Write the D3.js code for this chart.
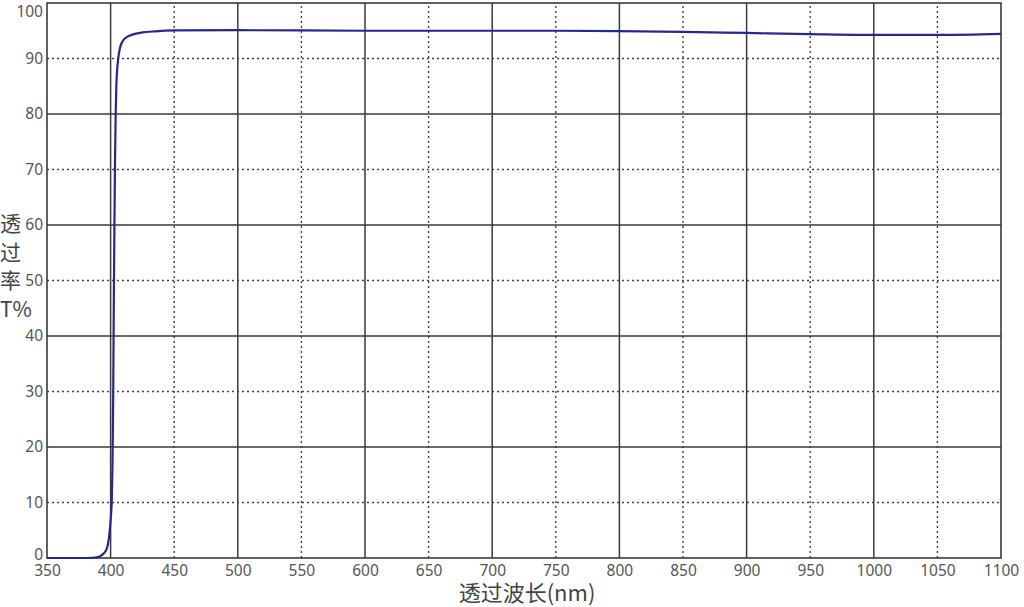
<!DOCTYPE html>
<html>
<head>
<meta charset="utf-8">
<script src="https://cdn.jsdelivr.net/npm/d3@7"></script>
<style>
  body { margin: 0; background: #fff; }
  svg { display: block; font-family: "Noto Sans CJK SC", "Noto Sans", sans-serif; }
</style>
</head>
<body>
<svg id="chart" width="1024" height="607"></svg>
<script>
// wavelength (nm) and transmittance (%)
const wavelengths = [350, 370, 380, 385, 390, 392, 394, 396, 397, 398, 399, 400, 401, 401.5, 402, 402.5, 403, 403.5, 404, 404.5, 405, 406, 407, 408, 410, 413, 417, 425, 435, 450, 500, 600, 700, 750, 800, 850, 900, 950, 1000, 1050, 1100]
const transmittance = [0, 0, 0, 0.02, 0.15, 0.35, 0.7, 1.2, 1.7, 2.6, 4.2, 6.8, 11, 17, 28, 45, 60, 72, 80, 85, 87.5, 90, 91.5, 92.4, 93.3, 93.9, 94.3, 94.7, 94.9, 95.05, 95.1, 95.0, 95.0, 95.0, 94.95, 94.8, 94.6, 94.4, 94.25, 94.25, 94.45]
const xTicks = d3.range(350, 1101, 50)
const yTicks = d3.range(0, 101, 10)
const xTitle = "透过波长(nm)"
const yTitle = ["透", "过", "率", "T%"]

const data = wavelengths.map((w, i) => ({w: w, t: transmittance[i]}))

const margin = {top: 3, right: 23, bottom: 49, left: 47}
const width = 1024, height = 607

const x = d3.scaleLinear()
    .domain([350, 1100])
    .range([margin.left, width - margin.right])

const y = d3.scaleLinear()
    .domain([0, 100])
    .range([height - margin.bottom, margin.top])

const svg = d3.select("#chart")

// grid: solid every 100 nm / 20 %, dotted in between
const isMajorX = v => v % 100 === 0
const isMajorY = v => v % 20 === 0

svg.append("g")
    .selectAll("line")
    .data(xTicks.filter(v => v > 350 && v < 1100))
    .join("line")
    .attr("x1", d => x(d)).attr("x2", d => x(d))
    .attr("y1", y(0)).attr("y2", y(100))
    .attr("stroke", d => isMajorX(d) ? "#3a3a3a" : "#444")
    .attr("stroke-width", d => isMajorX(d) ? 1.5 : 1.4)
    .attr("stroke-dasharray", d => isMajorX(d) ? null : "2,3")

svg.append("g")
    .selectAll("line")
    .data(yTicks.filter(v => v > 0 && v < 100))
    .join("line")
    .attr("x1", x(350)).attr("x2", x(1100))
    .attr("y1", d => y(d)).attr("y2", d => y(d))
    .attr("stroke", d => isMajorY(d) ? "#3a3a3a" : "#444")
    .attr("stroke-width", d => isMajorY(d) ? 1.5 : 1.4)
    .attr("stroke-dasharray", d => isMajorY(d) ? null : "2,3")

// frame
svg.append("rect")
    .attr("x", x(350)).attr("y", y(100))
    .attr("width", x(1100) - x(350)).attr("height", y(0) - y(100))
    .attr("fill", "none")
    .attr("stroke", "#3a3a3a")
    .attr("stroke-width", 1.6)

// axes (labels only)
const xAxis = g => g
    .attr("transform", `translate(0,${y(0)})`)
    .call(d3.axisBottom(x).tickValues(xTicks).tickFormat(d3.format("d")).tickSize(0).tickPadding(7))
    .call(g => g.select(".domain").remove())
    .call(g => g.selectAll("text")
        .attr("fill", "#555")
        .attr("font-size", 15.5)
        .attr("font-family", "Noto Sans, sans-serif"))

const yAxis = g => g
    .attr("transform", `translate(${x(350)},0)`)
    .call(d3.axisLeft(y).tickValues(yTicks).tickFormat(d3.format("d")).tickSize(0).tickPadding(4))
    .call(g => g.select(".domain").remove())
    .call(g => g.selectAll("text")
        .attr("fill", "#555")
        .attr("font-size", 15.5)
        .attr("font-family", "Noto Sans, sans-serif"))
    .call(g => g.selectAll(".tick").filter(d => d === 100)
        .select("text").attr("dy", "0.9em"))
    .call(g => g.selectAll(".tick").filter(d => d === 0)
        .select("text").attr("dy", "0.1em"))

svg.append("g").call(xAxis)
svg.append("g").call(yAxis)

// curve
const line = d3.line()
    .x(d => x(d.w))
    .y(d => y(d.t))
    .curve(d3.curveMonotoneX)

svg.append("path")
    .datum(data)
    .attr("fill", "none")
    .attr("stroke", "#262a86")
    .attr("stroke-width", 2.2)
    .attr("stroke-linejoin", "round")
    .attr("d", line)

// titles
svg.append("text")
    .attr("x", 527)
    .attr("y", 601)
    .attr("text-anchor", "middle")
    .attr("font-size", 22)
    .attr("fill", "#444")
    .text(xTitle)

svg.append("g")
    .selectAll("text")
    .data(yTitle)
    .join("text")
    .attr("x", 0)
    .attr("y", (d, i) => 231 + i * 28.5)
    .attr("font-size", 21)
    .attr("fill", "#444")
    .text(d => d)
</script>
</body>
</html>
